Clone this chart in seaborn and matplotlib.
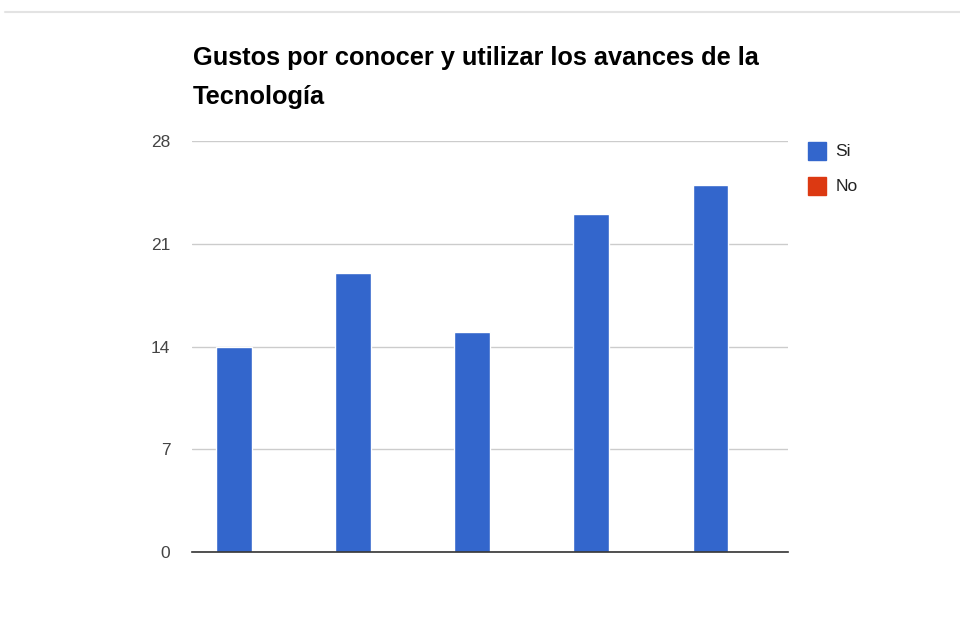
import matplotlib.pyplot as plt
import seaborn as sns
import pandas as pd

# data
categories = ["1", "2", "3", "4", "5"]
si_values = [14, 19, 15, 23, 25]
no_values = [0, 0, 0, 0, 0]
series = ["Si", "No"]
colors = ["#3366cc", "#dc3912"]
yticks = [0, 7, 14, 21, 28]
title_lines = ["Gustos por conocer y utilizar los avances de la", "Tecnología"]

df = pd.DataFrame({
    "cat": categories * 2,
    "val": si_values + no_values,
    "serie": [series[0]] * len(categories) + [series[1]] * len(categories),
})

sns.set_style("white")
plt.rcParams['font.family'] = ['Liberation Sans', 'DejaVu Sans']

fig = plt.figure(figsize=(9.6, 6.17), dpi=100)
ax = fig.add_axes([0.2, 0.1053, 0.6208, 0.6662])

sns.barplot(data=df, x="cat", y="val", hue="serie", palette=colors,
            width=0.6, saturation=1, ax=ax, legend=False, zorder=3)

ax.set_ylim(0, 28)
ax.set_yticks(yticks)
ax.set_yticklabels([str(t) for t in yticks], color="#444444", fontsize=12.5)
ax.tick_params(axis='y', length=0, pad=15.5)
ax.set_xticks([])
ax.set_xlabel("")
ax.set_ylabel("")
ax.grid(axis='y', color="#cccccc", linewidth=1, zorder=0)
for s in ["top", "right", "left"]:
    ax.spines[s].set_visible(False)
ax.spines["bottom"].set_color("#333333")
ax.spines["bottom"].set_linewidth(1.2)
ax.spines["bottom"].set_zorder(5)

# title, two lines
fig.text(0.201, 0.906, title_lines[0], fontsize=18.3, fontweight="bold",
         color="#000000", va="center")
fig.text(0.201, 0.843, title_lines[1], fontsize=18.3, fontweight="bold",
         color="#000000", va="center")

# legend
for i, (name, c) in enumerate(zip(series, colors)):
    y = 0.755 - i * 0.057
    fig.patches.append(plt.Rectangle((0.842, y - 0.014), 0.018, 0.029,
                                     transform=fig.transFigure, color=c))
    fig.text(0.870, y, name, fontsize=12.5, color="#222222", va="center")

# thin line at the top of the page
fig.add_artist(plt.Line2D([0.005, 1.0], [0.980, 0.980], color="#e3e3e3",
                          linewidth=1.5, transform=fig.transFigure))

fig.savefig("out.png", dpi=100, facecolor="white")
